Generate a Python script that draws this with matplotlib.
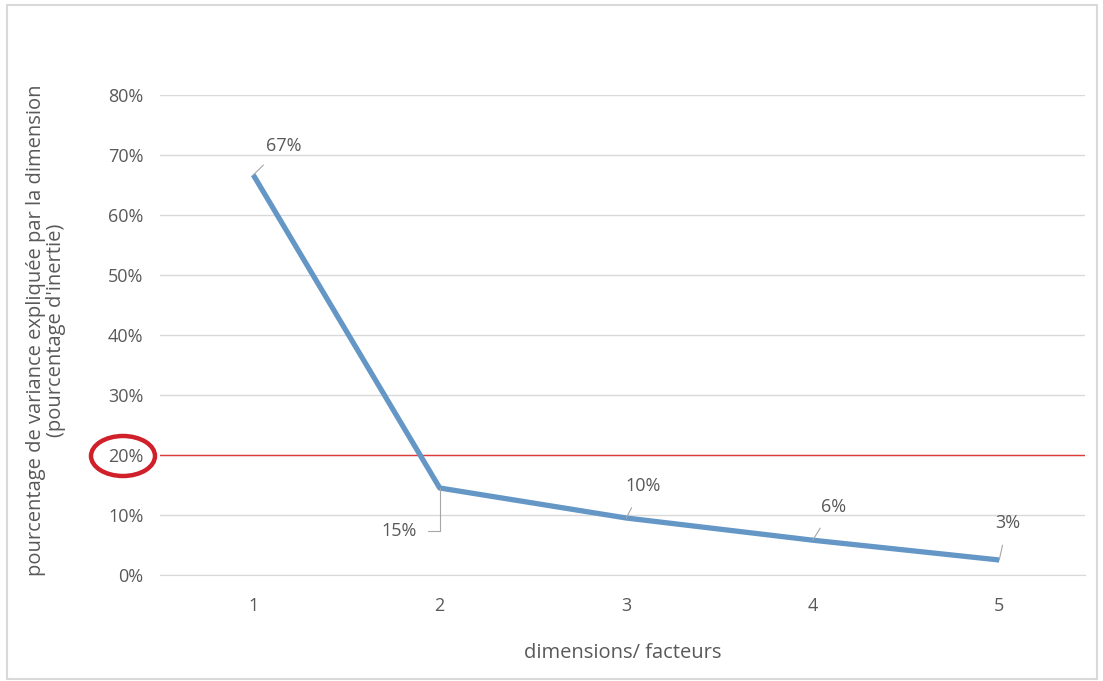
import matplotlib.pyplot as plt
from matplotlib.patches import Ellipse, Rectangle
from matplotlib.ticker import PercentFormatter

# valeurs
dimensions = [1, 2, 3, 4, 5]
variance = [0.667, 0.145, 0.095, 0.058, 0.025]
labels = ['67%', '15%', '10%', '6%', '3%']
# décalage des étiquettes (points)
offsets = [(22, 21), (-29, -31), (12, 23), (15, 24), (6, 27)]
seuil = 0.20

plt.rcParams['font.family'] = ['Open Sans', 'DejaVu Sans']
grey = '#595959'

fig = plt.figure(figsize=(11.03, 6.81), dpi=100)
ax = fig.add_axes([160 / 1103, 1 - 575 / 681, 925 / 1103, 480 / 681])

ax.plot(dimensions, variance, color='#6497c6', lw=3.8, solid_capstyle='butt', zorder=3)
ax.axhline(seuil, color='#e03a3a', lw=1.0, zorder=2)

for x, y, lab, off in zip(dimensions, variance, labels, offsets):
    if lab == '15%':
        ax.annotate(lab, (x, y), xytext=off, textcoords='offset points',
                    ha='center', va='center', fontsize=13, color=grey,
                    arrowprops=dict(arrowstyle='-', color='#a6a6a6', lw=0.8,
                                    connectionstyle='angle,angleA=0,angleB=90,rad=0',
                                    shrinkA=6, shrinkB=0))
    else:
        ax.annotate(lab, (x, y), xytext=off, textcoords='offset points',
                    ha='center', va='center', fontsize=13, color=grey,
                    arrowprops=dict(arrowstyle='-', color='#a6a6a6', lw=0.8,
                                    shrinkA=8, shrinkB=0))

ax.set_xlim(0.5, 5.46)
ax.set_ylim(0, 0.8)
ax.set_xticks(dimensions)
ax.set_yticks([i / 10 for i in range(9)])
ax.yaxis.set_major_formatter(PercentFormatter(1.0, decimals=0))
ax.grid(axis='y', color='#d9d9d9', lw=1)
ax.set_axisbelow(True)
for s in ['top', 'right', 'left']:
    ax.spines[s].set_visible(False)
ax.spines['bottom'].set_color('#d9d9d9')
ax.tick_params(length=0, labelsize=13, colors=grey)
ax.tick_params(axis='x', pad=16)
ax.tick_params(axis='y', pad=12)

ax.set_xlabel('dimensions/ facteurs', fontsize=14.5, color=grey, labelpad=20)
fig.text(46 / 1103, 1 - 330 / 681,
         "pourcentage de variance expliquée par la dimension\n(pourcentage d'inertie)",
         rotation=90, ha='center', va='center', fontsize=14.5, color=grey,
         linespacing=1.05)

fig.add_artist(Ellipse((123 / 1103, 1 - 456 / 681), 64 / 1103, 40 / 681,
                       transform=fig.transFigure, fill=False,
                       edgecolor='#d0202a', lw=3.2))
fig.add_artist(Rectangle((7 / 1103, 2 / 681), 1090 / 1103, 674 / 681,
                         transform=fig.transFigure, fill=False,
                         edgecolor='#d9d9d9', lw=1.5))

fig.savefig('out.png', dpi=100)
